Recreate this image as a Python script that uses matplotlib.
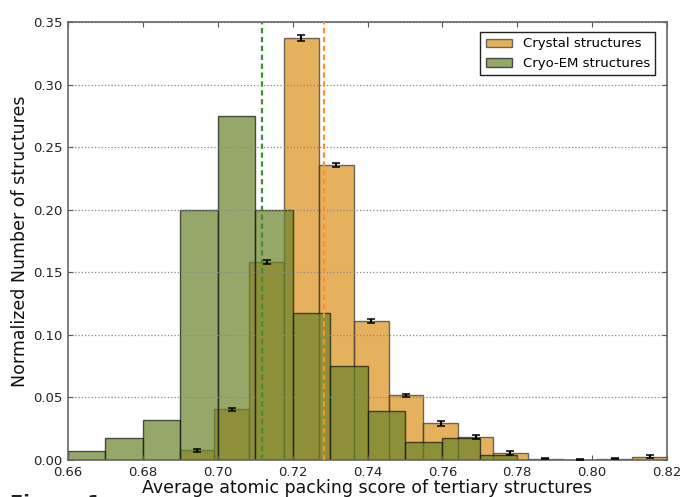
import matplotlib
matplotlib.use('agg')
import matplotlib.pyplot as plt
import numpy as np

# normalized histogram of packing scores, crystal structures (14 bins over the data range)
crystal_lo, crystal_hi = 0.6898, 0.82
crystal_heights = [0.008, 0.0405, 0.158, 0.3372, 0.2355, 0.111, 0.0517, 0.0293,
                   0.018, 0.0056, 0.0012, 0.0002, 0.0012, 0.0027]
crystal_err = [0.0012, 0.0014, 0.0017, 0.0022, 0.0017, 0.0015, 0.0013, 0.0018,
               0.0016, 0.0018, 0.0004, 0.0003, 0.0004, 0.0012]

# cryo-EM structures, 0.01 wide bins
cryo_lo, cryo_hi = 0.66, 0.78
cryo_heights = [0.0072, 0.0179, 0.0323, 0.2, 0.2746, 0.2, 0.1177, 0.0749,
                0.0395, 0.0144, 0.0179, 0.004]

crystal_mean = 0.7283
cryo_mean = 0.7117

crystal_color = '#DA9019'
cryo_color = '#69832A'

crystal_edges = np.linspace(crystal_lo, crystal_hi, len(crystal_heights) + 1)
cryo_edges = np.linspace(cryo_lo, cryo_hi, len(cryo_heights) + 1)
crystal_w = np.diff(crystal_edges)
cryo_w = np.diff(cryo_edges)

fig = plt.figure(figsize=(6.8, 4.97), dpi=100)
ax = fig.add_axes([0.1, 0.0744, 0.881, 0.8813])

ax.bar(crystal_edges[:-1], crystal_heights, width=crystal_w, align='edge',
       color=crystal_color, alpha=0.7, edgecolor='#333333', linewidth=1.0,
       label='Crystal structures')
ax.bar(cryo_edges[:-1], cryo_heights, width=cryo_w, align='edge',
       color=cryo_color, alpha=0.7, edgecolor='#111111', linewidth=1.0,
       label='Cryo-EM structures')

ax.errorbar(crystal_edges[:-1] + crystal_w / 2, crystal_heights, yerr=crystal_err,
            fmt='none', ecolor='black', elinewidth=1.5, capsize=3, capthick=1.1,
            zorder=5)

ax.axvline(cryo_mean, color='#3F8F35', linestyle=(0, (2.4, 1.6)), linewidth=1.6, zorder=4)
ax.axvline(crystal_mean, color='#FF9030', linestyle=(0, (2.4, 1.6)), linewidth=1.6, zorder=4)

ax.set_xlim(0.66, 0.82)
ax.set_ylim(0, 0.35)
ax.set_xticks(np.arange(0.66, 0.8201, 0.02))
ax.set_yticks(np.arange(0, 0.3501, 0.05))
ax.xaxis.set_major_formatter(matplotlib.ticker.FormatStrFormatter('%.2f'))
ax.yaxis.set_major_formatter(matplotlib.ticker.FormatStrFormatter('%.2f'))
ax.tick_params(direction='in', top=True, right=True, length=3.5, width=0.8,
               color='#555555', labelsize=9.5, pad=4, labelcolor='#222222')
ax.yaxis.grid(True, linestyle=':', color='#888888', linewidth=0.9)

for s in ax.spines.values():
    s.set_color('#666666')
    s.set_linewidth(1.2)

ax.set_xlabel('Average atomic packing score of tertiary structures', fontsize=12.5,
              color='#111111', labelpad=0)
ax.set_ylabel('Normalized Number of structures', fontsize=12.5, color='#111111',
              labelpad=3)

leg = ax.legend(loc='upper right', fontsize=9.5, fancybox=False, framealpha=1,
                edgecolor='#222222', borderpad=0.4, handlelength=2.0,
                handleheight=0.6, borderaxespad=0, bbox_to_anchor=(0.98, 0.977))
leg.get_frame().set_linewidth(1.0)

# caption heading, cropped at the lower edge
fig.text(0.015, 0.006, 'Figure 1', fontsize=14, fontweight='bold', va='top',
         color='#222222')

fig.savefig('out.png', dpi=100)
